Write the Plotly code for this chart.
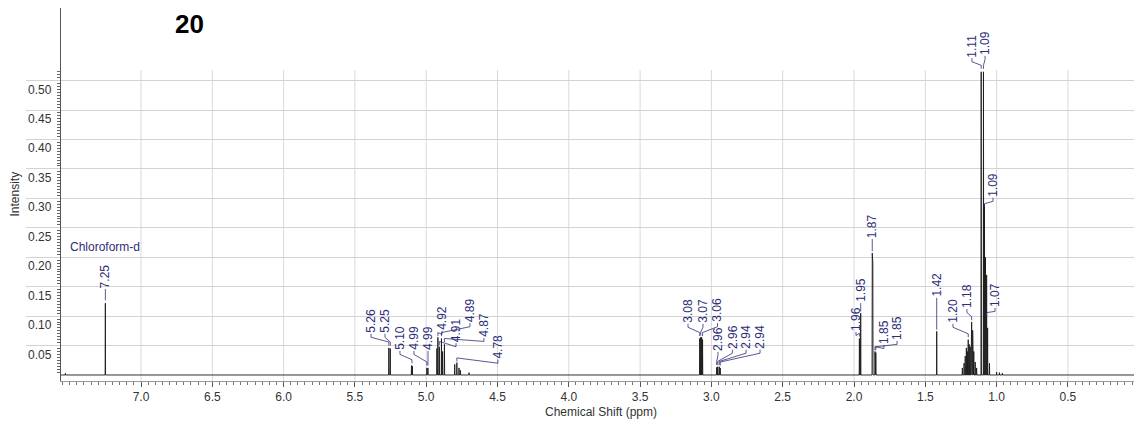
import numpy as np
import plotly.graph_objects as go

# ---------------- data ----------------
PEAK_PPM = [7.530, 7.250, 5.262, 5.252, 5.103, 5.097, 4.995, 4.988,
            4.925, 4.918, 4.908, 4.893, 4.885, 4.872, 4.800, 4.785, 4.770, 4.760, 4.700,
            3.082, 3.075, 3.068, 3.062, 2.963, 2.956, 2.945, 2.938,
            1.962, 1.953, 1.872, 1.868, 1.853, 1.847, 1.420,
            1.240, 1.228, 1.220, 1.212, 1.205, 1.199, 1.192, 1.185, 1.178, 1.175,
            1.168, 1.160, 1.150, 1.140,
            1.108, 1.092, 1.085, 1.078, 1.070, 1.063, 1.050, 1.000, 0.980, 0.960]
PEAK_INT = [0.003, 0.122, 0.046, 0.045, 0.016, 0.015, 0.012, 0.012,
            0.045, 0.064, 0.048, 0.062, 0.040, 0.052, 0.018, 0.021, 0.012, 0.008, 0.004,
            0.062, 0.064, 0.064, 0.060, 0.013, 0.014, 0.014, 0.012,
            0.062, 0.105, 0.207, 0.190, 0.040, 0.038, 0.074,
            0.012, 0.020, 0.032, 0.046, 0.040, 0.060, 0.052, 0.048, 0.070, 0.090,
            0.076, 0.040, 0.022, 0.012,
            0.515, 0.515, 0.290, 0.200, 0.170, 0.080, 0.020, 0.005, 0.004, 0.003]

LABEL_TEXT = ["7.25", "5.26", "5.25", "5.10", "4.99", "4.99", "4.92", "4.91", "4.89",
              "4.87", "4.78", "3.08", "3.07", "3.06", "2.96", "2.96", "2.94", "2.94",
              "1.96", "1.95", "1.87", "1.85", "1.85", "1.42", "1.20", "1.18",
              "1.11", "1.09", "1.09", "1.07"]
LABEL_PEAK = [7.250, 5.262, 5.252, 5.100, 4.995, 4.988, 4.918, 4.908, 4.893,
              4.872, 4.785, 3.082, 3.075, 3.062, 2.963, 2.956, 2.945, 2.938,
              1.962, 1.953, 1.872, 1.853, 1.847, 1.420, 1.199, 1.175,
              1.108, 1.092, 1.085, 1.070]
# label placement (layout): x in ppm, text bottom and leader end in intensity
LABEL_X = [7.250, 5.387, 5.289, 5.184, 5.086, 4.987, 4.889, 4.791, 4.693,
           4.595, 4.497, 3.164, 3.059, 2.957, 2.954, 2.853, 2.757, 2.659,
           1.986, 1.953, 1.872, 1.790, 1.698, 1.420, 1.306, 1.208,
           1.173, 1.081, 1.025, 1.011]
LABEL_BOTTOM = [0.146, 0.070, 0.070, 0.041, 0.041, 0.041, 0.075, 0.054, 0.088,
                0.063, 0.026, 0.087, 0.087, 0.088, 0.039, 0.043, 0.043, 0.043,
                0.073, 0.122, 0.231, 0.051, 0.058, 0.131, 0.087, 0.112,
                0.538, 0.542, 0.301, 0.114]
LABEL_END = [0.127, 0.050, 0.050, 0.020, 0.016, 0.016, 0.066, 0.051, 0.066,
             0.056, 0.023, 0.066, 0.067, 0.066, 0.017, 0.017, 0.017, 0.016,
             0.065, 0.108, 0.210, 0.042, 0.042, 0.077, 0.064, 0.093,
             0.520, 0.520, 0.285, 0.100]

X_TICKS = [7.0, 6.5, 6.0, 5.5, 5.0, 4.5, 4.0, 3.5, 3.0, 2.5, 2.0, 1.5, 1.0, 0.5, 0.0]
X_TICK_TEXT = ["7.0", "6.5", "6.0", "5.5", "5.0", "4.5", "4.0", "3.5", "3.0",
               "2.5", "2.0", "1.5", "1.0", "0.5", "0"]
Y_TICKS = [0.05, 0.10, 0.15, 0.20, 0.25, 0.30, 0.35, 0.40, 0.45, 0.50]
Y_TICK_TEXT = ["0.05", "0.10", "0.15", "0.20", "0.25", "0.30", "0.35", "0.40", "0.45", "0.50"]

# ---------------- style ----------------
X_RANGE = [7.561, -0.0126]
Y_RANGE = [-0.0102, 0.6233]
GRID_TOP = 0.518
LINE_HALF = 0.0015
NAVY = "#2d2d78"
GRID = "#d9d9d9"
HGRID = "#d3d3d3"
FONT = "Arial, Liberation Sans, sans-serif"

# spectrum trace (stick peaks on baseline)
xs, ys = [X_RANGE[0]], [0.0]
for p, h in sorted(zip(PEAK_PPM, PEAK_INT), reverse=True):
    xs += [p + LINE_HALF, p, p - LINE_HALF]
    ys += [0.0, h, 0.0]
xs.append(X_RANGE[1]); ys.append(0.0)

fig = go.Figure()
fig.add_trace(go.Scatter(x=xs, y=ys, mode="lines",
                         line=dict(color="#1a1a1a", width=0.9),
                         hoverinfo="skip", showlegend=False))

# leader lines
lx, ly = [], []
for px, x, b, e in zip(LABEL_PEAK, LABEL_X, LABEL_BOTTOM, LABEL_END):
    if abs(px - x) < 1e-9:
        lx += [x, px, None]; ly += [b, e, None]
    else:
        k1 = b - 0.006
        k2 = e + 0.006
        lx += [x, x, px, px, None]; ly += [b, k1, k2, e, None]
fig.add_trace(go.Scatter(x=lx, y=ly, mode="lines", line=dict(color=NAVY, width=0.8),
                         hoverinfo="skip", showlegend=False))

annotations = []
for t, x, b in zip(LABEL_TEXT, LABEL_X, LABEL_BOTTOM):
    annotations.append(dict(x=x, y=b, xref="x", yref="y", text=t, textangle=-90,
                            showarrow=False, xanchor="center", yanchor="bottom",
                            borderpad=0, font=dict(family=FONT, size=12, color=NAVY)))
# y tick labels sit just below their long tick marks
for v, t in zip(Y_TICKS, Y_TICK_TEXT):
    annotations.append(dict(x=-0.0074, y=v, xref="paper", yref="y", text=t,
                            showarrow=False, xanchor="right", yanchor="middle",
                            yshift=-9, borderpad=0,
                            font=dict(family=FONT, size=12, color="#333")))
annotations.append(dict(x=7.25, y=0.217, xref="x", yref="y", text="Chloroform-d",
                        showarrow=False, xanchor="center", yanchor="middle",
                        font=dict(family=FONT, size=12, color=NAVY)))
annotations.append(dict(x=0.119, y=1.0, xref="paper", yref="paper", text="<b>20</b>",
                        showarrow=False, xanchor="center", yanchor="top",
                        borderpad=0,
                        font=dict(family=FONT, size=26, color="#000")))
annotations.append(dict(x=0.5, y=-0.083, xref="paper", yref="paper",
                        text="Chemical Shift (ppm)", showarrow=False,
                        xanchor="center", yanchor="middle",
                        font=dict(family=FONT, size=12, color="#333")))
annotations.append(dict(x=-0.0435, y=0.5, xref="paper", yref="paper",
                        text="Intensity", textangle=-90, showarrow=False,
                        xanchor="center", yanchor="middle",
                        font=dict(family=FONT, size=12, color="#333")))

shapes = [dict(type="line", xref="x", yref="y", x0=v, x1=v, y0=Y_RANGE[0], y1=GRID_TOP,
               line=dict(color=GRID, width=1), layer="below") for v in X_TICKS]

y_minor = [round(v, 3) for v in np.arange(0.005, 0.5151, 0.005) if round(v * 200) % 10 != 0]

# the page adds an 8px body margin; the figure size and margins absorb it
fig.update_layout(
    width=1134, height=413, autosize=False,
    margin=dict(l=53, r=1, t=0, b=40),
    paper_bgcolor="white", plot_bgcolor="white",
    font=dict(family=FONT, size=12, color="#333"),
    annotations=annotations, shapes=shapes,
    xaxis=dict(range=X_RANGE, tickmode="array", tickvals=X_TICKS, ticktext=X_TICK_TEXT,
               automargin=False,
               ticks="outside", ticklen=5, tickcolor="#555", showgrid=False,
               showline=True, linecolor="#999", linewidth=1, zeroline=False,
               tickfont=dict(size=12, color="#333"),
               minor=dict(tickmode="linear", tick0=0, dtick=0.05, ticks="outside",
                          ticklen=3, tickcolor="#777", showgrid=False)),
    yaxis=dict(range=Y_RANGE, tickmode="array", tickvals=Y_TICKS,
               showticklabels=False, automargin=False,
               ticks="outside", ticklen=34, tickcolor=HGRID, tickwidth=1,
               showgrid=True, gridcolor=HGRID, gridwidth=1,
               showline=True, linecolor="#555", linewidth=1, zeroline=False,
               minor=dict(tickmode="array", tickvals=y_minor, ticks="outside",
                          ticklen=3, tickcolor="#666", showgrid=False)),
)

fig.write_html("out.html", config={"displayModeBar": False})
